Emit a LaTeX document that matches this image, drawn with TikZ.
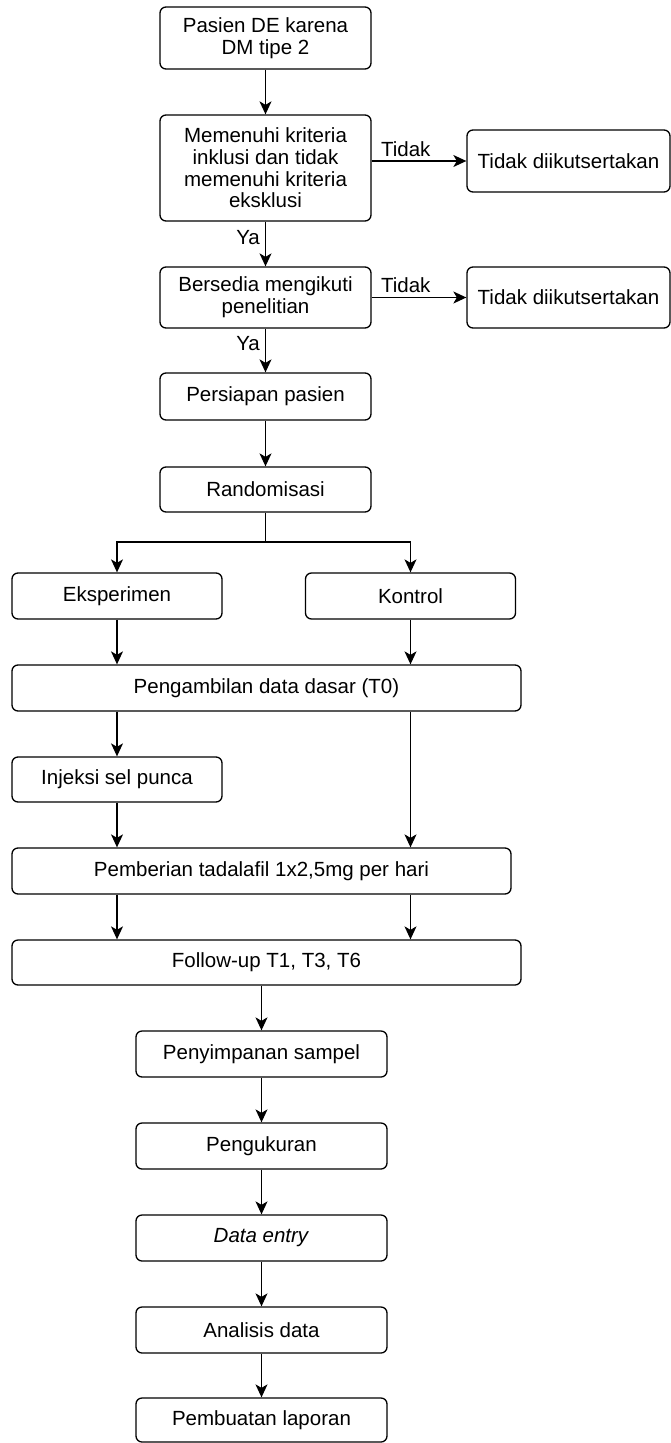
\documentclass[tikz,border=0pt]{standalone}
\usepackage{fontspec}
\setmainfont{Liberation Sans}
\usetikzlibrary{positioning,arrows.meta}

\begin{document}
\begin{tikzpicture}[x=1pt, y=-1pt,
    blk/.style={draw, line width=1.3pt, rounded corners=6pt, inner sep=0pt, minimum height=46pt,
                align=center, font=\fontsize{20.5}{21.7}\selectfont},
    mid/.style={blk, minimum width=211pt},
    half/.style={blk, minimum width=210pt},
    wide/.style={blk, minimum width=509pt},
    low/.style={blk, minimum width=251pt},
    lbl/.style={font=\fontsize{20.5}{21.7}\selectfont, inner sep=2pt},
    arr/.style={-{Stealth[length=13pt, width=12pt, inset=3.5pt]}, line width=1.3pt}
  ]
  \useasboundingbox (0,0) rectangle (671,1443);

  \node[mid, minimum height=62pt]  (pasien)   at (265.5,38)   {Pasien DE karena\\DM tipe 2};
  \node[mid, minimum height=106pt] (kriteria) at (265.5,168)  {Memenuhi kriteria\\inklusi dan tidak\\memenuhi kriteria\\eksklusi};
  \node[blk, minimum width=203pt, minimum height=62pt] (tidak1) at (568.5,161) {Tidak diikutsertakan};
  \node[mid, minimum height=61pt]  (bersedia) at (265.5,297.5) {Bersedia mengikuti\\penelitian};
  \node[blk, minimum width=203pt, minimum height=61pt] (tidak2) at (568.5,297.5) {Tidak diikutsertakan};
  \node[mid, minimum height=47pt]  (persiapan) at (265.5,396.5) {Persiapan pasien};
  \node[mid, minimum height=45pt]  (random)   at (265.5,489.5) {Randomisasi};
  \coordinate (split) at (265.5,542);

  \node[half] (eksp)    at (117,596)   {Eksperimen};
  \node[half] (kontrol) at (410.5,596) {Kontrol};
  \node[wide] (dasar)   at (266.5,688) {Pengambilan data dasar (T0)};
  \node[half, minimum height=45pt] (injeksi) at (117,779.5) {Injeksi sel punca};
  \node[blk, minimum width=499pt] (tadalafil) at (261.5,871) {Pemberian tadalafil 1x2,5mg per hari};
  \node[wide, minimum height=45pt] (followup) at (266.5,962.5) {Follow-up T1, T3, T6};

  \node[low] (simpan)   at (261.5,1054) {Penyimpanan sampel};
  \node[low] (ukur)     at (261.5,1146) {Pengukuran};
  \node[low] (entry)    at (261.5,1238) {\textit{Data entry}};
  \node[low] (analisis) at (261.5,1330) {Analisis data};
  \node[low, minimum height=44pt] (laporan) at (261.5,1420) {Pembuatan laporan};

  % seleksi pasien
  \draw[arr] (pasien) -- (kriteria);
  \draw[arr] (tidak1.west -| kriteria.east) -- node[lbl, above, pos=0.36, yshift=2pt] {Tidak} (tidak1.west);
  \draw[arr] (kriteria) -- node[lbl, left, pos=0.35, xshift=-3pt] {Ya} (bersedia);
  \draw[arr] (bersedia) -- node[lbl, above, pos=0.36, yshift=2pt] {Tidak} (tidak2);
  \draw[arr] (bersedia) -- node[lbl, left, pos=0.35, xshift=-3pt] {Ya} (persiapan);
  \draw[arr] (persiapan) -- (random);

  % randomisasi
  \draw[line width=1.3pt] (random) -- (split);
  \draw[arr] (split) -| (eksp);
  \draw[arr] (split) -| (kontrol);

  % perlakuan
  \draw[arr] (eksp) -- (dasar.north -| eksp);
  \draw[arr] (kontrol) -- (dasar.north -| kontrol);
  \draw[arr] (dasar.south -| eksp) -- (injeksi);
  \draw[arr] (dasar.south -| kontrol) -- (tadalafil.north -| kontrol);
  \draw[arr] (injeksi) -- (tadalafil.north -| injeksi);
  \draw[arr] (tadalafil.south -| eksp) -- (followup.north -| eksp);
  \draw[arr] (tadalafil.south -| kontrol) -- (followup.north -| kontrol);

  % pengolahan
  \draw[arr] (followup.south -| simpan) -- (simpan);
  \draw[arr] (simpan) -- (ukur);
  \draw[arr] (ukur) -- (entry);
  \draw[arr] (entry) -- (analisis);
  \draw[arr] (analisis) -- (laporan);
\end{tikzpicture}
\end{document}
